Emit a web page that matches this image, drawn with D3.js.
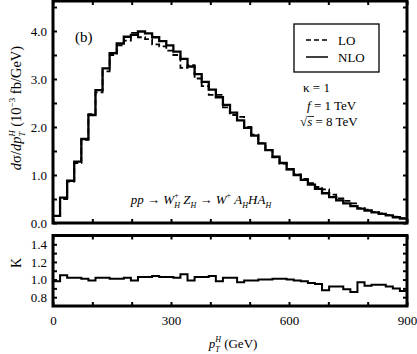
<!DOCTYPE html>
<html>
<head>
<meta charset="UTF-8">
<title>pT distribution</title>
<script src="https://d3js.org/d3.v7.min.js"></script>
<style>
  body { margin: 0; background: #fff; }
  svg { display: block; font-family: "Liberation Serif", "DejaVu Serif", serif; }
  svg text { white-space: pre; }
  .axis path { display: none; }
  .axis line { stroke: #000; stroke-width: 2; }
  .axis text { font-size: 13px; fill: #000; font-family: "Liberation Serif", serif; }
</style>
</head>
<body>
<svg id="chart" width="417" height="354"></svg>
<script>
// ---- data: 18 GeV bins, lower edges (GeV) ----
var binLow = [0, 18, 36, 54, 72, 90, 108, 126, 144, 162,
              180, 198, 216, 234, 252, 270, 288, 306, 324, 342,
              360, 378, 396, 414, 432, 450, 468, 486, 504, 522,
              540, 558, 576, 594, 612, 630, 648, 666, 684, 702,
              720, 738, 756, 774, 792, 810, 828, 846, 864, 882];
var binTop = 900;

// dsigma/dpT (10^-3 fb/GeV)
var nlo = [0.15, 0.53, 0.88, 1.28, 1.75, 2.25, 2.77, 3.22, 3.54, 3.74,
           3.88, 3.92, 3.99, 3.95, 3.87, 3.79, 3.70, 3.57, 3.42, 3.26,
           3.10, 2.94, 2.78, 2.62, 2.46, 2.30, 2.14, 1.98, 1.82, 1.66,
           1.52, 1.38, 1.25, 1.12, 1.00, 0.90, 0.80, 0.71, 0.62, 0.54,
           0.47, 0.41, 0.35, 0.30, 0.26, 0.22, 0.19, 0.16, 0.12, 0.09];
var lo  = [0.15, 0.50, 0.86, 1.25, 1.73, 2.27, 2.72, 3.16, 3.50, 3.70,
           3.80, 3.96, 3.87, 3.83, 3.72, 3.68, 3.59, 3.50, 3.23, 3.29,
           3.01, 2.85, 2.67, 2.67, 2.41, 2.25, 2.21, 2.00, 1.84, 1.66,
           1.52, 1.37, 1.24, 1.12, 1.01, 0.92, 0.83, 0.75, 0.70, 0.59,
           0.51, 0.46, 0.41, 0.31, 0.28, 0.23, 0.20, 0.17, 0.13, 0.10];
// K factor
var kfac = [0.98, 1.05, 1.02, 1.02, 1.01, 0.99, 1.02, 1.02, 1.01, 1.01,
            1.02, 0.99, 1.03, 1.03, 1.04, 1.03, 1.03, 1.02, 1.06, 0.99,
            1.03, 1.03, 1.04, 0.98, 1.02, 1.02, 0.97, 0.99, 0.99, 1.00,
            1.00, 1.01, 1.01, 1.00, 0.99, 0.98, 0.96, 0.95, 0.88, 0.92,
            0.92, 0.89, 0.86, 0.97, 0.93, 0.94, 0.94, 0.92, 0.90, 0.87];

var xTickLabels = [0, 300, 600, 900];
var xTicksMinor = [0, 100, 200, 300, 400, 500, 600, 700, 800, 900];
var yTickLabels = [0, 1, 2, 3, 4];
var yTicksMinor = [0, 0.5, 1, 1.5, 2, 2.5, 3, 3.5, 4, 4.5];
var kTickLabels = [0.8, 1.0, 1.2, 1.4];
var kTicksMinor = [0.8, 0.9, 1.0, 1.1, 1.2, 1.3, 1.4];

var svg = d3.select("#chart");
var left = 53, right = 407;
var mainTop = 1, mainBot = 223;
var kTop = 235.5, kBot = 306;

var x = d3.scaleLinear().domain([0, 900]).range([left, right]);
var y = d3.scaleLinear().domain([0, 4.625]).range([mainBot, mainTop]);
var yk = d3.scaleLinear().domain([0.7, 1.5]).range([kBot, kTop]);

function steps(vals) {
  var pts = binLow.map(function(b, i) { return [b, vals[i]]; });
  pts.push([binTop, vals[vals.length - 1]]);
  return pts;
}

// rich text helper: parts laid out left to right, "stack" parts share x with next part
function rich(parent, parts, size) {
  var g = parent.append("g");
  var cx = 0, stackW = 0;
  parts.forEach(function(p) {
    var t = g.append("text")
      .attr("x", cx).attr("y", p.dy || 0)
      .attr("font-size", p.sz || size)
      .attr("font-style", p.it ? "italic" : "normal")
      .text(p.t);
    var w = t.node().getComputedTextLength();
    if (p.stack) { stackW = w; }
    else { cx += Math.max(w, stackW); stackW = 0; }
  });
  return { g: g, width: cx };
}

// ===== main panel =====
var line = d3.line()
  .x(function(d) { return x(d[0]); })
  .y(function(d) { return y(d[1]); })
  .curve(d3.curveStepAfter);

svg.append("path")
  .attr("d", line(steps(lo)))
  .attr("fill", "none").attr("stroke", "#000")
  .attr("stroke-width", 1.8).attr("stroke-dasharray", "6,3");

svg.append("path")
  .attr("d", line(steps(nlo)))
  .attr("fill", "none").attr("stroke", "#000")
  .attr("stroke-width", 2.3);

svg.append("g").attr("class", "axis")
  .attr("transform", "translate(0," + mainBot + ")")
  .call(d3.axisBottom(x).tickValues(xTicksMinor).tickSize(-4).tickFormat(""));
svg.append("g").attr("class", "axis")
  .attr("transform", "translate(0," + mainTop + ")")
  .call(d3.axisTop(x).tickValues(xTicksMinor).tickSize(-4).tickFormat(""));
svg.append("g").attr("class", "axis")
  .attr("transform", "translate(" + left + ",0)")
  .call(d3.axisLeft(y).tickValues(yTicksMinor).tickSize(-4).tickPadding(6)
    .tickFormat(function(v) { return yTickLabels.indexOf(v) >= 0 ? d3.format(".1f")(v) : ""; }));
svg.append("g").attr("class", "axis")
  .attr("transform", "translate(" + right + ",0)")
  .call(d3.axisRight(y).tickValues(yTicksMinor).tickSize(-4).tickFormat(""));

svg.append("rect")
  .attr("x", left).attr("y", mainTop)
  .attr("width", right - left).attr("height", mainBot - mainTop)
  .attr("fill", "none").attr("stroke", "#000").attr("stroke-width", 3);

// ===== K panel =====
var kline = d3.line()
  .x(function(d) { return x(d[0]); })
  .y(function(d) { return yk(d[1]); })
  .curve(d3.curveStepAfter);

svg.append("path")
  .attr("d", kline(steps(kfac)))
  .attr("fill", "none").attr("stroke", "#000").attr("stroke-width", 2);

svg.append("g").attr("class", "axis")
  .attr("transform", "translate(0," + kBot + ")")
  .call(d3.axisBottom(x).tickValues(xTicksMinor).tickSize(-4).tickPadding(10)
    .tickFormat(function(v) { return xTickLabels.indexOf(v) >= 0 ? v : ""; }));
svg.append("g").attr("class", "axis")
  .attr("transform", "translate(0," + kTop + ")")
  .call(d3.axisTop(x).tickValues(xTicksMinor).tickSize(-4).tickFormat(""));
svg.append("g").attr("class", "axis")
  .attr("transform", "translate(" + left + ",0)")
  .call(d3.axisLeft(yk).tickValues(kTicksMinor).tickSize(-4).tickPadding(6)
    .tickFormat(function(v) { return kTickLabels.indexOf(v) >= 0 ? d3.format(".1f")(v) : ""; }));
svg.append("g").attr("class", "axis")
  .attr("transform", "translate(" + right + ",0)")
  .call(d3.axisRight(yk).tickValues(kTicksMinor).tickSize(-4).tickFormat(""));

svg.append("rect")
  .attr("x", left).attr("y", kTop)
  .attr("width", right - left).attr("height", kBot - kTop)
  .attr("fill", "none").attr("stroke", "#000").attr("stroke-width", 3);

// ===== labels =====
// x title
var xt = rich(svg, [
  { t: "p", it: true },
  { t: "H", it: true, sz: 8, dy: -6, stack: true },
  { t: "T", it: true, sz: 8, dy: 4 },
  { t: " (GeV)" }
], 13);
xt.g.attr("transform", "translate(" + (233 - xt.width / 2) + ",348)");

// y title (main)
var ytg = svg.append("g").attr("transform", "translate(21,108) rotate(-90)");
var yt = rich(ytg, [
  { t: "d", it: true },
  { t: "σ" },
  { t: "/" },
  { t: "dp", it: true },
  { t: "H", it: true, sz: 8.5, dy: -6, stack: true },
  { t: "T", it: true, sz: 8.5, dy: 4 },
  { t: " (10" },
  { t: "−3", sz: 9, dy: -6 },
  { t: " fb/GeV)" }
], 14.5);
yt.g.attr("transform", "translate(" + (-yt.width / 2) + ",0)");

// K title
svg.append("text")
  .attr("transform", "translate(21,263) rotate(-90)")
  .attr("text-anchor", "middle")
  .attr("font-size", 14)
  .text("K");

// panel tag
svg.append("text").attr("x", 75).attr("y", 42).attr("font-size", 15).text("(b)");

// legend
svg.append("rect").attr("x", 294).attr("y", 24).attr("width", 85).attr("height", 48)
  .attr("fill", "#fff").attr("stroke", "#000").attr("stroke-width", 1.3);
svg.append("line").attr("x1", 306).attr("x2", 328).attr("y1", 40).attr("y2", 40)
  .attr("stroke", "#000").attr("stroke-width", 1.5).attr("stroke-dasharray", "5,3");
svg.append("text").attr("x", 338).attr("y", 44.5).attr("font-size", 13).text("LO");
svg.append("line").attr("x1", 306).attr("x2", 328).attr("y1", 57).attr("y2", 57)
  .attr("stroke", "#000").attr("stroke-width", 1.5);
svg.append("text").attr("x", 338).attr("y", 61.5).attr("font-size", 13).text("NLO");

// parameters
var p1 = rich(svg, [{ t: "κ" }, { t: " = 1" }], 13);
p1.g.attr("transform", "translate(303,92)");
var p2 = rich(svg, [{ t: "f", it: true }, { t: " = 1 TeV" }], 13);
p2.g.attr("transform", "translate(307,110)");
var p3 = rich(svg, [{ t: "√" }, { t: "s", it: true }, { t: " = 8 TeV" }], 13);
p3.g.attr("transform", "translate(300,126)");
// overline for sqrt
svg.append("line").attr("x1", 307.5).attr("x2", 314).attr("y1", 116.5).attr("y2", 116.5)
  .attr("stroke", "#000").attr("stroke-width", 0.8);

// process
var pr = rich(svg, [
  { t: "pp", it: true },
  { t: " → " },
  { t: "W", it: true },
  { t: "+", sz: 8, dy: -6, stack: true },
  { t: "H", it: true, sz: 8, dy: 4 },
  { t: " " },
  { t: "Z", it: true },
  { t: "H", it: true, sz: 8, dy: 4 },
  { t: " → " },
  { t: "W", it: true },
  { t: "+", sz: 8, dy: -6 },
  { t: " " },
  { t: "A", it: true },
  { t: "H", it: true, sz: 8, dy: 4 },
  { t: "HA", it: true },
  { t: "H", it: true, sz: 8, dy: 4 }
], 13);
pr.g.attr("transform", "translate(" + (201 - pr.width / 2) + ",204)");
</script>
</body>
</html>
